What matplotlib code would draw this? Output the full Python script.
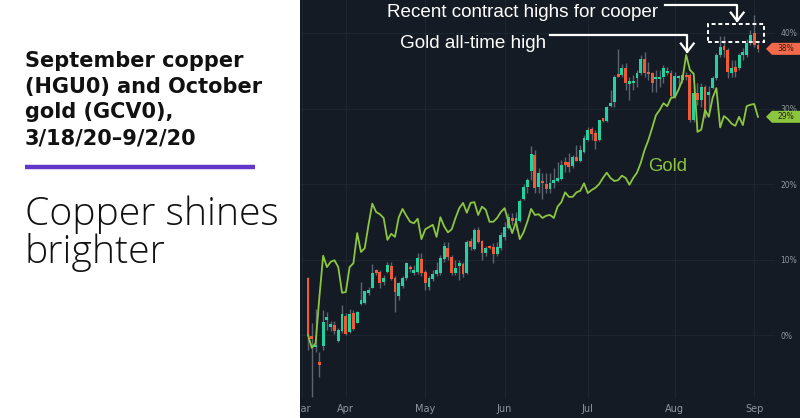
import numpy as np
import matplotlib.pyplot as plt
from matplotlib.patches import Polygon, Rectangle

# September copper (HGU0) daily candles, % change vs first close
cu_open = [7.5, -0.1, -1.6, -3.6, -1.5, 2.0, 1.1, 1.3, -0.8, 0.5,
           2.5, 0.4, 2.9, 1.6, 4.1, 4.2, 5.6, 6.2, 8.6, 8.3,
           7.0, 8.3, 9.1, 7.5, 5.2, 6.5, 7.5, 9.0, 8.2, 8.3,
           10.1, 8.3, 6.4, 7.4, 8.1, 8.2, 10.1, 11.5, 10.3, 8.2,
           9.1, 9.4, 8.2, 12.5, 11.4, 13.9, 12.5, 10.9, 11.8, 11.7,
           10.7, 11.5, 13.0, 14.2, 15.5, 15.0, 15.1, 18.0, 19.6, 21.7,
           23.8, 19.6, 20.3, 20.0, 19.3, 20.1, 20.4, 20.7, 22.9, 22.9,
           22.4, 23.6, 23.1, 24.2, 25.8, 27.3, 26.8, 25.8, 28.6, 28.4,
           30.3, 30.9, 34.6, 34.4, 35.4, 33.3, 33.4, 34.0, 34.7, 36.6,
           34.8, 34.7, 33.9, 33.9, 34.2, 34.7, 34.7, 31.5, 34.0, 33.8,
           34.4, 34.4, 28.5, 32.1, 31.1, 32.9, 31.8, 32.7, 34.0, 37.1,
           38.3, 37.7, 34.7, 35.5, 35.4, 37.1, 37.1, 38.7, 40.0, 38.4]
cu_high = [7.7, 1.6, 3.4, -2.3, 3.3, 3.0, 1.9, 1.9, 0.9, 4.0,
           2.9, 3.4, 3.3, 3.2, 7.0, 5.8, 6.4, 9.4, 8.7, 8.6,
           7.9, 9.7, 9.7, 7.8, 7.0, 7.8, 9.7, 9.3, 9.3, 10.9,
           10.9, 8.6, 7.8, 8.6, 9.7, 10.6, 12.3, 12.3, 10.6, 9.9,
           9.9, 9.7, 12.6, 12.8, 14.2, 14.3, 12.6, 11.8, 11.9, 12.2,
           12.3, 13.6, 15.0, 16.2, 16.2, 16.3, 18.0, 20.0, 20.8, 25.0,
           24.5, 22.1, 21.5, 21.5, 21.5, 22.1, 22.9, 23.2, 23.6, 24.1,
           23.8, 25.2, 25.2, 26.5, 27.6, 27.6, 27.2, 28.5, 28.8, 30.3,
           32.5, 34.4, 37.9, 35.9, 36.0, 34.2, 34.4, 35.1, 37.1, 37.5,
           36.2, 34.8, 35.1, 35.1, 35.8, 35.5, 35.1, 34.8, 34.5, 34.5,
           34.8, 34.7, 33.1, 33.4, 33.4, 33.1, 33.0, 34.3, 37.3, 39.6,
           39.6, 38.0, 36.4, 36.4, 37.4, 38.0, 39.2, 40.4, 42.4, 38.7]
cu_low = [-2.0, -8.2, -2.3, -5.6, -2.0, 0.7, 0.5, 0.1, -0.9, 0.3,
          0.0, 0.3, 0.7, 1.6, 4.0, 4.1, 5.3, 6.2, 7.9, 6.2,
          6.6, 8.2, 7.3, 3.0, 4.6, 6.2, 7.3, 8.3, 7.9, 8.1,
          7.8, 6.0, 6.0, 7.2, 7.8, 7.9, 9.7, 9.9, 7.9, 7.9,
          7.3, 7.7, 8.1, 11.3, 11.3, 12.2, 9.9, 10.5, 11.4, 9.5,
          10.5, 11.3, 12.6, 14.0, 14.6, 13.9, 15.0, 17.9, 18.8, 20.5,
          18.8, 18.8, 18.0, 18.8, 18.8, 19.5, 20.3, 20.5, 21.6, 21.6,
          22.1, 23.0, 22.9, 24.1, 25.7, 25.8, 24.6, 25.7, 28.2, 28.2,
          30.2, 30.2, 34.2, 34.2, 32.5, 31.1, 32.5, 32.9, 34.4, 34.2,
          33.8, 32.2, 32.2, 32.9, 33.4, 34.4, 31.5, 31.4, 33.0, 33.4,
          33.8, 28.2, 28.2, 30.5, 30.2, 28.7, 29.5, 32.6, 33.8, 36.8,
          36.8, 34.0, 34.2, 34.2, 35.1, 36.4, 36.8, 38.4, 38.2, 37.5]
cu_close = [0.0, -0.5, -1.3, -4.0, 1.7, 2.4, 1.3, 0.5, 0.7, 2.8,
            0.1, 2.8, 0.8, 3.0, 4.6, 5.8, 6.0, 8.2, 8.2, 6.9,
            7.5, 9.3, 7.4, 5.7, 6.9, 7.5, 9.5, 8.7, 8.6, 10.2,
            8.2, 6.9, 7.5, 8.1, 8.6, 10.2, 11.8, 10.3, 8.2, 8.9,
            9.5, 8.1, 12.3, 11.7, 13.9, 12.3, 10.9, 11.5, 11.5, 10.7,
            11.7, 13.2, 14.3, 15.6, 15.1, 15.5, 17.8, 19.6, 20.5, 24.0,
            19.5, 21.5, 20.1, 19.3, 20.1, 20.5, 20.8, 22.5, 22.5, 22.3,
            23.6, 23.1, 24.5, 26.1, 27.2, 26.6, 25.7, 28.5, 28.4, 30.2,
            30.7, 34.2, 34.2, 35.4, 33.4, 33.5, 33.7, 34.7, 36.6, 34.7,
            34.6, 33.4, 34.2, 34.2, 35.4, 35.0, 31.7, 34.3, 34.3, 34.4,
            34.2, 28.5, 32.1, 31.1, 32.9, 28.9, 32.2, 34.0, 37.1, 38.1,
            37.7, 34.8, 35.4, 34.8, 37.1, 37.5, 38.7, 39.7, 38.4, 37.9]

# October gold (GCV0) close, % change vs first close
gold_pct = [0.0, -1.7, -1.1, 5.0, 10.5, 9.0, 9.7, 9.9, 9.0, 5.6,
            5.7, 9.0, 9.5, 13.5, 11.0, 11.5, 14.6, 17.4, 16.3, 16.0,
            15.5, 12.6, 13.4, 13.0, 15.6, 16.7, 15.8, 15.0, 14.8, 15.4,
            12.7, 14.0, 14.3, 14.6, 13.0, 15.6, 14.4, 13.6, 14.0, 15.5,
            16.8, 17.5, 16.2, 17.5, 17.6, 15.9, 17.0, 16.6, 15.0, 15.0,
            15.5, 16.3, 16.8, 15.0, 13.5, 15.0, 12.7, 13.6, 15.0, 16.7,
            15.9, 16.0, 15.5, 15.8, 15.9, 15.5, 17.0, 17.6, 18.9, 18.3,
            18.3, 18.9, 19.1, 20.1, 18.8, 19.2, 19.5, 20.0, 20.8, 21.5,
            20.8, 20.4, 20.5, 21.1, 20.8, 19.9, 20.8, 21.5, 22.8, 24.5,
            25.8, 27.4, 29.1, 29.8, 30.7, 30.3, 31.4, 31.5, 32.5, 33.8,
            37.1, 35.1, 34.6, 26.9, 27.2, 29.8, 28.9, 31.4, 32.7, 27.5,
            29.0, 28.6, 28.0, 27.7, 28.9, 27.8, 30.3, 30.5, 30.6, 28.9]

month_labels = ['Mar', 'Apr', 'May', 'Jun', 'Jul', 'Aug', 'Sep']
month_start = [-1.7, 10, 31, 52, 74, 97, 118]   # bar index where each month begins
pct_ticks = [0, 10, 20, 30, 40]

BG = '#151b25'
GRID = '#1d2530'
UP = '#22d3a0'
DN = '#f05a35'
WICK = '#5c6470'
GOLD = '#8cc63f'
LBL = '#8f969e'

fig = plt.figure(figsize=(8, 4.18), dpi=100, facecolor=BG)
ax = fig.add_axes([300/800, 20/418, 475/800, 398/418])
ax.set_facecolor(BG)

o = np.array(cu_open)
h = np.array(cu_high)
l = np.array(cu_low)
c = np.array(cu_close)
x = np.arange(len(o))
colors = np.where(c >= o, UP, DN)

ax.vlines(x, l, h, color=WICK, lw=1, zorder=2)
ax.bar(x, np.maximum(np.abs(c - o), 0.3), bottom=np.minimum(o, c), width=0.76,
       color=colors, linewidth=0, zorder=3)
ax.plot(x, gold_pct, color=GOLD, lw=1.3, zorder=4)

ax.set_xlim(-2.12, 123.5)
ax.set_ylim(-8.34, 44.37)
ax.set_xticks(month_start)
ax.set_xticklabels(month_labels)
ax.set_yticks(pct_ticks)
ax.set_yticklabels([f'{v}%' for v in pct_ticks])
ax.yaxis.tick_right()
ax.tick_params(axis='x', length=0, pad=4, labelsize=7, labelcolor=LBL)
ax.tick_params(axis='y', length=0, pad=4, labelsize=5.5, labelcolor=LBL)
ax.grid(True, color=GRID, lw=0.8)
ax.set_axisbelow(True)
for s in ax.spines.values():
    s.set_visible(False)

# annotations
txt = dict(family='Liberation Sans', fontsize=13.6, color='white', zorder=6)
ath = int(np.argmax(gold_pct))
tip = gold_pct[ath] + 0.4
ax.plot([64.0, ath + 0.3, ath + 0.3], [tip + 2.2, tip + 2.2, tip], color='white', lw=1.6, zorder=6)
ax.plot([ath - 1.4, ath + 0.3, ath + 2.0], [tip + 1.1, tip, tip + 1.1], color='white', lw=1.6, zorder=6)
ax.text(24.3, 38.0, 'Gold all-time high', va='baseline', **txt)

ax.plot([94.4, 113.5, 113.5], [43.7, 43.7, 41.6], color='white', lw=1.6, zorder=6)
ax.plot([111.8, 113.5, 115.2], [42.7, 41.6, 42.7], color='white', lw=1.6, zorder=6)
ax.text(20.9, 42.1, 'Recent contract highs for cooper', va='baseline', **txt)
ax.add_patch(Rectangle((105.8, 38.8), 14.8, 2.4, fill=False, ec='white', lw=1.4,
                       ls=(0, (2, 1.5)), zorder=6))

ax.text(89.9, 21.7, 'Gold', va='baseline', family='Liberation Sans', fontsize=13.3,
        color=GOLD, zorder=6)

# last-value tags on the right scale
def tag(val, color):
    yf = ax.transData.transform((0, val))[1] / fig.bbox.height
    hh = 6 / 418
    pts = [[766/800, yf], [772/800, yf + hh], [1.0, yf + hh], [1.0, yf - hh], [772/800, yf - hh]]
    fig.add_artist(Polygon(pts, closed=True, transform=fig.transFigure, facecolor=color,
                           edgecolor='none', zorder=2))
    fig.text(786/800, yf, f'{val:.0f}%', ha='center', va='center', fontsize=5.5,
             color='#2a1a14', zorder=3)

tag(cu_close[-1], '#f26a4b')
tag(gold_pct[-1], GOLD)

# left title panel
panel = fig.add_axes([0, 0, 300/800, 1])
panel.set_zorder(5)
panel.set_facecolor('white')
panel.set_xlim(0, 300)
panel.set_ylim(418, 0)
panel.set_xticks([])
panel.set_yticks([])
for s in panel.spines.values():
    s.set_visible(False)

title_lines = ['September copper', '(HGU0) and October', 'gold (GCV0),', '3/18/20\u20139/2/20']
for k, line in enumerate(title_lines):
    panel.text(25, 67 + 25.7 * k, line, fontsize=15, fontweight='bold',
               family='DejaVu Sans', color='#111111', va='baseline')
panel.plot([25, 255], [167, 167], color='#6236c8', lw=3.2, solid_capstyle='butt')
panel.text(25, 225, 'Copper shines', fontsize=28.2, family='Open Sans', fontweight='light',
           color='#111111', va='baseline')
panel.text(25, 263, 'brighter', fontsize=28.2, family='Open Sans', fontweight='light',
           color='#111111', va='baseline')

fig.savefig('out.png', dpi=100, facecolor=BG)
